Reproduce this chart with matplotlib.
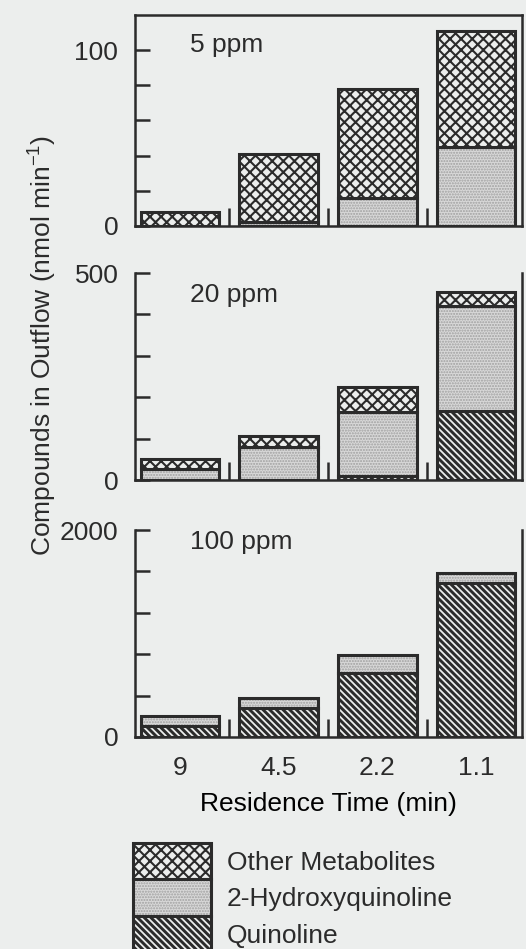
import numpy as np
import matplotlib
matplotlib.use("Agg")
import matplotlib.pyplot as plt
from matplotlib.patches import Patch, Rectangle
from matplotlib.legend_handler import HandlerTuple, HandlerPatch

# residence time categories
times = ["9", "4.5", "2.2", "1.1"]

# compounds in outflow (nmol/min), per dose
quin_5 = [0, 0, 0, 0]
hydroxy_5 = [0, 2, 16, 45]
other_5 = [8, 39, 62, 66]

quin_20 = [0, 0, 10, 167]
hydroxy_20 = [27, 80, 154, 253]
other_20 = [24, 26, 61, 34]

quin_100 = [110, 280, 618, 1488]
hydroxy_100 = [93, 97, 174, 97]
other_100 = [0, 0, 0, 0]

doses = ["5 ppm", "20 ppm", "100 ppm"]
ymax = [100, 500, 2000]
ytop = [120, 500, 2000]

bg = "#eceeed"
dark = "#2b2b2b"
fs = 19

plt.rcParams["font.family"] = ["Liberation Sans", "DejaVu Sans"]
plt.rcParams["text.color"] = dark

styles = {
    "other": dict(facecolor=bg, edgecolor=dark, hatch="xxx"),
    "hydroxy": dict(facecolor="#d8d8d8", edgecolor="#a0a0a0", hatch="......"),
    "quin": dict(facecolor=bg, edgecolor=dark, hatch="\\\\\\\\\\"),
}
# hatch line width per compound
hatch_lw = {"other": 1.5, "hydroxy": 1.0, "quin": 2.1}

fig = plt.figure(figsize=(5.26, 9.49), dpi=100, facecolor=bg)

# axes rectangles in figure fraction
rects = [
    [0.2567, 0.7619, 0.7357, 0.2223],
    [0.2567, 0.4942, 0.7357, 0.2181],
    [0.2567, 0.2234, 0.7357, 0.2181],
]
data = [
    (quin_5, hydroxy_5, other_5),
    (quin_20, hydroxy_20, other_20),
    (quin_100, hydroxy_100, other_100),
]
text_y = [0.858, 0.894, 0.942]

x = np.arange(len(times))
w = 0.8
for i, (rect, (q, h, o)) in enumerate(zip(rects, data)):
    ax = fig.add_axes(rect)
    ax.set_facecolor("none")
    q = np.array(q, float)
    h = np.array(h, float)
    o = np.array(o, float)
    segs = [("quin", q, 0), ("hydroxy", h, q), ("other", o, q + h)]
    for name, vals, bot in segs:
        m = vals > 0
        b = np.broadcast_to(bot, vals.shape)[m]
        with plt.rc_context({"hatch.linewidth": hatch_lw[name]}):
            ax.bar(x[m], vals[m], w, bottom=b, linewidth=0, **styles[name])
        ax.bar(x[m], vals[m], w, bottom=b, fill=False, edgecolor=dark,
               linewidth=2.2)
    ax.set_xlim(-0.456, 3.466)
    ax.set_ylim(0, ytop[i])
    ax.set_yticks(np.linspace(0, ymax[i], 6))
    ax.set_yticklabels(["0", "", "", "", "", str(ymax[i])])
    ax.tick_params(axis="y", direction="in", length=11, width=1.8,
                   labelsize=fs, pad=12, colors=dark)
    ax.set_xticks(x)
    ax.set_xticks(x[:-1] + 0.5, minor=True)
    ax.tick_params(axis="x", which="major", length=0, labelsize=fs, pad=14,
                   colors=dark)
    ax.tick_params(axis="x", which="minor", direction="in", length=13,
                   width=1.8, colors=dark)
    if i == 2:
        ax.set_xticklabels(times)
        ax.set_xlabel("Residence Time (min)", fontsize=fs, labelpad=8)
    else:
        ax.set_xticklabels([])
    for s in ax.spines.values():
        s.set_linewidth(1.8)
        s.set_color(dark)
    if i > 0:
        ax.spines["top"].set_visible(False)
    ax.text(0.142, text_y[i], doses[i], transform=ax.transAxes,
            fontsize=fs, va="center", ha="left")

fig.text(42 / 526, 1 - 345 / 949,
         "Compounds in Outflow (nmol min$^{\\mathregular{-1}}$)",
         rotation=90, fontsize=fs, ha="center", va="center")


def patch_maker(lw):
    def make(legend, orig_handle, xdescent, ydescent, width, height, fontsize):
        with plt.rc_context({"hatch.linewidth": lw}):
            return Rectangle((-xdescent, -ydescent), width, height)
    return make


handles = []
hmap = {tuple: HandlerTuple(ndivide=1, pad=0)}
for name in ["other", "hydroxy", "quin"]:
    fill = Patch(linewidth=0, **styles[name])
    outline = Patch(fill=False, edgecolor=dark, linewidth=2.2)
    hmap[fill] = HandlerPatch(patch_func=patch_maker(hatch_lw[name]))
    handles.append((fill, outline))
fig.legend(handles, ["Other Metabolites", "2-Hydroxyquinoline", "Quinoline"],
           handler_map=hmap,
           loc="upper left", bbox_to_anchor=(133 / 526, 1 - 843 / 949),
           frameon=False, fontsize=fs, handlelength=2.95, handleheight=1.75,
           labelspacing=0.0, handletextpad=0.6, borderpad=0, borderaxespad=0)

fig.savefig("out.png", dpi=100, facecolor=bg)
